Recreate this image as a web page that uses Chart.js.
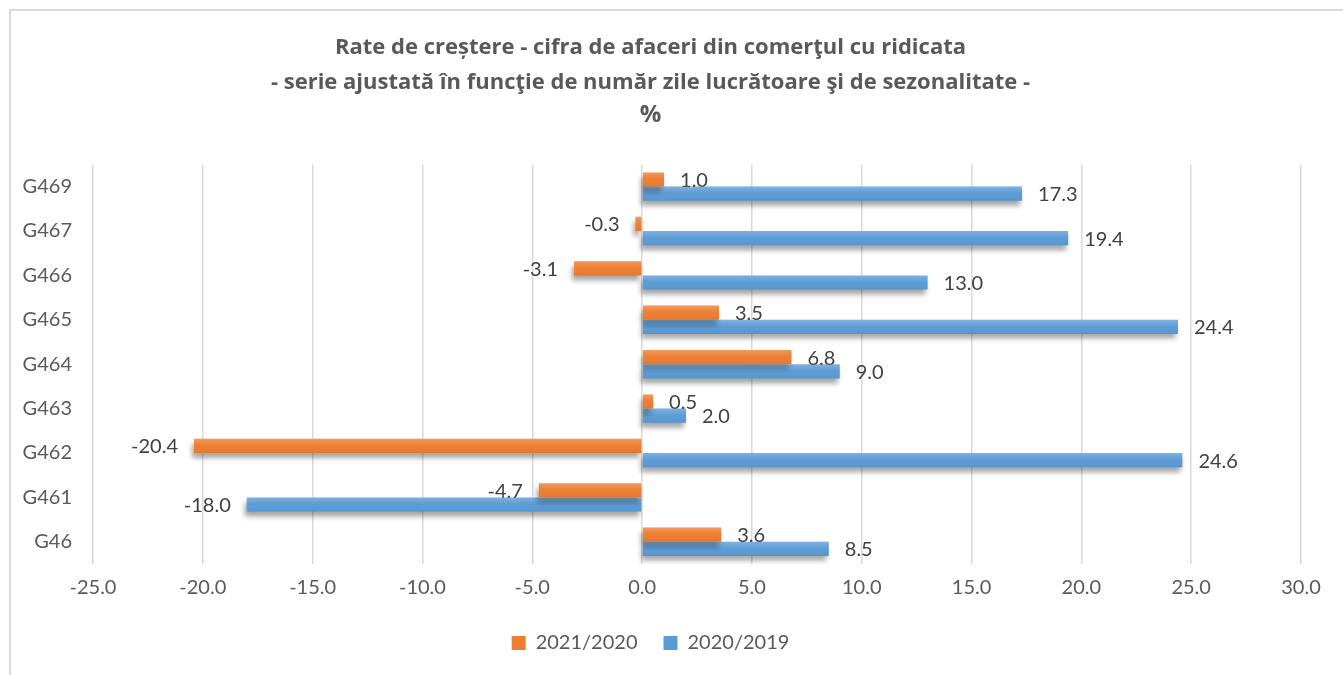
<!DOCTYPE html>
<html>
<head>
<meta charset="utf-8">
<script src="https://cdn.jsdelivr.net/npm/chart.js@4.4.0/dist/chart.umd.min.js"></script>
<style>
    html, body { margin: 0; padding: 0; background: #fff; }
    #wrap { position: relative; width: 1343px; height: 675px; }
    #frame { position: absolute; left: 9px; top: 9px; right: 0; bottom: 0;
             border-left: 2px solid #d9d9d9; border-top: 2px solid #d9d9d9; pointer-events: none; }
</style>
</head>
<body>
<div id="wrap">
    <canvas id="growthChart" width="1343" height="675"></canvas>
    <div id="frame"></div>
</div>
<script>
var categories = ['G469', 'G467', 'G466', 'G465', 'G464', 'G463', 'G462', 'G461', 'G46'];
var rates2021 = [1.0, -0.3, -3.1, 3.5, 6.8, 0.5, -20.4, -4.7, 3.6]; // 2021/2020
var rates2020 = [17.3, 19.4, 13.0, 24.4, 9.0, 2.0, 24.6, -18.0, 8.5]; // 2020/2019
var seriesNames = ['2021/2020', '2020/2019'];
var titleLines = [
    'Rate de creștere - cifra de afaceri din comerţul cu ridicata',
    '- serie ajustată în funcţie de număr zile lucrătoare şi de sezonalitate -'
];
var unitLine = '%';
var xMin = -25, xMax = 30, xStep = 5;

var fontFamily = 'Lato, "Open Sans", sans-serif';
var titleFamily = '"Open Sans", Lato, sans-serif';

// soft drop shadow under each bar, like the office chart
var barShadow = {
    id: 'barShadow',
    beforeDatasetDraw: function (chart) {
        var c = chart.ctx;
        c.save();
        c.shadowColor = 'rgba(0, 0, 0, 0.35)';
        c.shadowBlur = 5;
        c.shadowOffsetX = -2;
        c.shadowOffsetY = 5;
    },
    afterDatasetDraw: function (chart) {
        chart.ctx.restore();
    }
};

// light gradient on the bars + value labels at the bar ends
var barLabels = {
    id: 'barLabels',
    afterDatasetsDraw: function (chart) {
        var c = chart.ctx;
        chart.data.datasets.forEach(function (ds, di) {
            var meta = chart.getDatasetMeta(di);
            meta.data.forEach(function (bar, i) {
                var p = bar.getProps(['x', 'y', 'base', 'height'], true);
                var left = Math.min(p.x, p.base), w = Math.abs(p.x - p.base);
                var top = p.y - p.height / 2;
                var g = c.createLinearGradient(0, top, 0, top + p.height);
                g.addColorStop(0, 'rgba(255,255,255,0.22)');
                g.addColorStop(0.5, 'rgba(255,255,255,0)');
                g.addColorStop(1, 'rgba(0,0,0,0.06)');
                c.save();
                c.fillStyle = g;
                c.fillRect(left, top, w, p.height);
                c.restore();

                var v = ds.data[i];
                c.save();
                c.font = '20px ' + fontFamily;
                c.fillStyle = '#404040';
                c.textBaseline = 'middle';
                if (v >= 0) {
                    c.textAlign = 'left';
                    c.fillText(v.toFixed(1), p.x + 16, p.y + 1);
                } else {
                    c.textAlign = 'right';
                    c.fillText(v.toFixed(1), p.x - 16, p.y + 1);
                }
                c.restore();
            });
        });
    }
};

var ctx = document.getElementById('growthChart').getContext('2d');
var growthChart = new Chart(ctx, {
    type: 'bar',
    data: {
        labels: categories,
        datasets: [{
            label: seriesNames[0],
            data: rates2021,
            backgroundColor: '#ed7d31',
            borderWidth: 0
        }, {
            label: seriesNames[1],
            data: rates2020,
            backgroundColor: '#5b9bd5',
            borderWidth: 0
        }]
    },
    options: {
        indexAxis: 'y',
        responsive: false,
        animation: false,
        categoryPercentage: 0.64,
        barPercentage: 1.0,
        layout: { padding: { left: 0, right: 42, top: 0, bottom: 12 } },
        scales: {
            x: {
                min: xMin,
                max: xMax,
                ticks: {
                    stepSize: xStep,
                    color: '#595959',
                    font: { family: fontFamily, size: 20 },
                    padding: 12,
                    callback: function (v) { return Number(v).toFixed(1); }
                },
                grid: { color: '#d9d9d9', lineWidth: 1.5, drawTicks: false },
                border: { display: false },
                afterFit: function (scale) { scale.height = 43; }
            },
            y: {
                ticks: {
                    color: '#595959',
                    font: { family: fontFamily, size: 20 },
                    padding: 13
                },
                grid: { display: false },
                border: { display: false },
                afterFit: function (scale) { scale.width = 93; }
            }
        },
        plugins: {
            title: {
                display: true,
                text: titleLines,
                color: '#595959',
                font: { family: titleFamily, size: 22, weight: 'bold', lineHeight: 1.6 },
                padding: { top: 30, bottom: 0 }
            },
            subtitle: {
                display: true,
                text: unitLine,
                color: '#595959',
                font: { family: titleFamily, size: 24, weight: 'bold', lineHeight: 1.25 },
                padding: { top: 0, bottom: 34 }
            },
            legend: {
                position: 'bottom',
                labels: {
                    color: '#595959',
                    font: { family: fontFamily, size: 20 },
                    boxWidth: 14,
                    boxHeight: 14,
                    padding: 26
                }
            },
            tooltip: { enabled: false }
        }
    },
    plugins: [barShadow, barLabels]
});
</script>
</body>
</html>
